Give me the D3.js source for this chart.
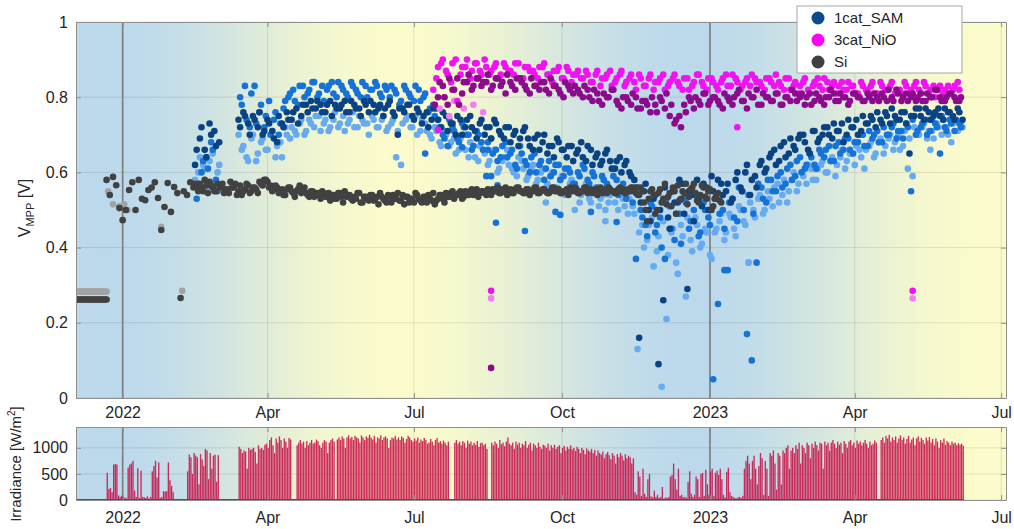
<!DOCTYPE html>
<html>
<head>
<meta charset="utf-8">
<title>V_MPP and irradiance</title>
<style>
  body { margin: 0; padding: 0; background: #fff; }
  svg { font-family: 'Liberation Sans', Arial, sans-serif; }
  .axis path, .axis line { stroke: #8f8f8f; }
  .axis text { fill: #262626; font-size: 16px; font-family: 'Liberation Sans', Arial, sans-serif; }
  .grid line { stroke: #000; stroke-opacity: 0.1; }
  .label { fill: #262626; font-size: 16px; }
  .legend text { fill: #262626; font-size: 15px; }
</style>
</head>
<body>
<div id="vis"></div>
<script src="https://cdn.jsdelivr.net/npm/d3@7"></script>
<script>
// all series are indexed by day counted from 2022-01-01
var xTickDates = ["2022-01-01", "2022-04-01", "2022-07-01", "2022-10-01", "2023-01-01", "2023-04-01", "2023-07-01"];
var xTickLabels = ["2022", "Apr", "Jul", "Oct", "2023", "Apr", "Jul"];
var yTicks = [0, 0.2, 0.4, 0.6, 0.8, 1];
var irrTicks = [0, 500, 1000];
var yearLines = ["2022-01-01", "2023-01-01"];

var legendNames = ["1cat_SAM", "3cat_NiO", "Si"];

// Si, first weeks (flat values)
var siFlatStart = -29;
var siFlatDark = [0.262,0.262,0.262,0.262,0.262,0.262,0.262,0.262,0.262,0.262,0.262,0.262,0.262,0.262,0.262,0.262,0.262,0.262,0.262,0.262];
var siFlatLight = [0.283,0.283,0.283,0.283,0.283,0.283,0.283,0.283,0.283,0.283,0.283,0.283,0.283,0.283,0.283,0.283,0.283,0.283,0.283,0.283];

// Si, every 2nd day
var siStep = 2;
var siStart = -10;
var siDark = [
  0.58,0.54,0.588,0.566,0.505,0.473,0.50,0.553,0.574,0.50,0.58,0.53,0.526,0.553,0.56,0.574,0.532,0.447,0.508,0.572,
  0.495,0.561,0.545,0.266,0.55,0.54,0.574,0.56,
  0.56,0.57,0.55,0.565,0.575,0.56,0.55,0.565,0.57,0.555,0.545,0.56,0.57,0.55,0.54,0.555,0.565,0.55,0.56,0.545,
  0.57,0.58,0.575,0.565,0.555,0.56,0.55,0.54,0.555,0.56,0.545,0.55,0.565,0.555,0.545,0.535,0.55,0.545,0.54,0.55,0.535,0.545,
  0.54,0.53,0.545,0.535,0.55,0.54,0.53,0.535,0.545,0.52,0.535,0.53,0.54,0.525,0.535,0.545,0.53,0.52,0.535,0.54,0.53,0.525,0.54,0.535,0.52,0.53,
  0.545,0.53,0.52,0.535,0.54,0.525,0.515,0.53,0.54,0.52,0.535,0.545,0.53,0.54,0.55,0.535,0.545,0.55,0.54,0.555,0.545,0.55,0.54,0.545,0.555,
  0.55,0.545,0.555,0.56,0.55,0.545,0.555,0.56,0.55,0.545,0.555,0.55,0.56,0.545,0.55,0.555,0.545,0.55,0.56,0.555,0.545,0.55,0.555,0.56,0.55,
  0.555,0.545,0.55,0.56,0.55,0.545,0.555,0.55,0.545,0.555,0.56,0.55,0.545,0.555,0.55,0.545,0.555,0.56,0.55,0.56,
  0.56,0.52,0.47,0.55,0.54,0.50,0.555,0.53,0.515,0.545,0.56,0.49,0.525,0.55,0.57,0.535,0.56,0.545,0.52,0.565,0.535,0.55,0.50,0.53,0.545,0.52
];
var siDark2Start = 45;
var siDark2 = [
  0.57,0.55,0.56,0.58,0.545,0.565,0.55,0.57,0.56,0.545,
  0.555,0.575,0.56,0.54,0.565,0.55,0.57,0.545,0.56,0.555,
  0.575,0.565,0.58,0.56,0.55,0.565,0.545,0.555,0.54,0.56,
  0.55,0.535,0.555,0.545,0.56,0.54,0.55,0.535,0.545,0.53,
  0.545,0.535,0.525,0.54,0.53,0.545,0.52,0.535,0.54,0.525,
  0.53,0.545,0.52,0.535,0.525,0.54,0.53,0.515,0.535,0.525,
  0.54,0.52,0.53,0.545,0.525,0.515,0.535,0.53,0.52,0.54,
  0.525,0.535,0.52,0.53,0.545,0.525,0.54,0.53,0.545,0.535,
  0.55,0.54,0.545,0.53,0.55,0.54,0.555,0.545,0.535,0.55,
  0.545,0.555,0.54,0.55,0.56,0.545,0.55,0.54,0.555,0.545,
  0.56,0.55,0.545,0.555,0.54,0.55,0.56,0.545,0.555,0.55,
  0.545,0.56,0.55,0.555,0.545,0.55,0.54,0.555,0.56,0.545,
  0.55,0.56,0.545,0.555,0.55,0.54,0.56,0.55,0.545,0.555,
  0.55,0.545,0.56,0.555,0.545,0.55,0.56,0.545,0.54,0.55,
  0.50,0.53,0.555,0.49,0.545,0.52,0.57,0.535,0.51,0.55,
  0.565,0.53,0.545,0.515,0.555,0.57,0.525,0.54,0.56,0.53,
  0.555,0.51,0.54,0.525
];
var siLight = [[-9,0.55],[-6,0.515],[-2,0.51],[1,0.515],[3,0.50],[24,0.455],[37,0.285]];

// 1cat_SAM, three pixels, every 3rd day (two interleaved runs each)
var samStep = 3;
var samDarkStart = 45;
var samDark = [
  0.62,0.69,0.66,0.73,0.71,0.68,null,null,null,0.74,
  0.76,0.73,0.75,0.72,0.70,0.74,0.71,0.68,0.73,0.76,
  0.74,0.77,0.75,0.78,0.79,0.77,0.78,0.76,0.79,0.78,
  0.77,0.79,0.76,0.78,0.77,0.79,0.76,0.78,0.77,0.75,
  0.78,0.76,0.70,0.77,0.78,0.75,0.77,0.73,0.76,0.74,
  0.77,0.72,0.75,0.73,0.70,0.74,0.72,0.75,0.71,0.73,
  0.70,0.72,0.74,0.71,0.69,0.72,0.70,0.67,0.71,0.69,
  0.66,0.70,0.68,0.65,0.67,0.69,0.66,0.64,0.67,0.65,
  0.68,0.63,0.66,0.64,0.62,0.65,0.63,0.61,0.64,0.62,
  0.60,0.58,0.16,0.55,0.50,0.53,0.09,0.26,0.48,0.55,
  0.52,0.57,0.29,0.54,0.58,0.51,0.56,0.59,0.53,0.57,
  0.55,0.52,0.58,0.56,0.60,0.54,0.59,0.62,0.60,0.64,
  0.66,0.63,0.68,0.65,0.67,0.69,0.70,0.66,0.71,0.68,
  0.70,0.72,0.69,0.71,0.73,0.70,0.72,0.74,0.71,0.73,
  0.75,0.72,0.74,0.76,0.73,0.75,0.74,0.76,0.65,0.75,
  0.77,0.74,0.76,0.75,0.77,0.74,0.76,0.75,0.77,0.74
];
var samDark2Start = 46;
var samDark2 = [
  0.66,0.72,0.64,0.70,0.67,null,null,null,null,0.72,
  0.75,0.70,0.74,0.76,0.71,0.73,0.69,0.75,0.72,0.74,
  0.76,0.73,0.78,0.76,0.77,0.79,0.76,0.78,0.75,0.77,
  0.78,0.76,0.79,0.77,0.75,0.78,0.79,0.76,0.78,0.77,
  0.79,0.75,0.77,0.76,0.78,0.74,0.76,0.75,0.72,0.77,
  0.74,0.76,0.71,0.73,0.75,0.70,0.74,0.72,0.69,0.74,
  0.72,0.69,0.73,0.70,0.72,0.68,0.71,0.69,0.72,0.67,
  0.69,0.66,0.70,0.67,0.64,0.68,0.66,0.67,0.63,0.66,
  0.64,0.67,0.62,0.65,0.63,0.66,0.61,0.63,0.60,0.63,
  0.59,0.56,0.52,0.57,0.47,0.54,0.50,0.56,0.45,0.52,
  0.58,0.49,0.55,0.47,0.53,0.57,0.50,0.55,0.58,0.54,
  0.57,0.53,0.60,0.55,0.62,0.58,0.56,0.63,0.61,0.65,
  0.62,0.67,0.64,0.69,0.66,0.70,0.68,0.65,0.71,0.69,
  0.72,0.70,0.73,0.71,0.68,0.74,0.72,0.70,0.75,0.73,
  0.74,0.76,0.73,0.75,0.77,0.74,0.76,0.73,0.75,0.77,
  0.75,0.77,0.74,0.76,0.75,0.77,0.76,0.74,0.76
];
var samMidStart = 46;
var samMid = [
  0.53,0.60,0.64,0.68,0.58,null,null,null,null,0.80,
  0.83,0.72,0.83,0.76,0.72,0.79,0.74,0.70,0.77,0.80,
  0.82,0.78,0.83,0.81,0.84,0.80,0.83,0.82,0.84,0.80,
  0.83,0.81,0.84,0.82,0.80,0.83,0.82,0.84,0.81,0.83,
  0.80,0.82,0.78,0.83,0.81,0.79,0.82,0.80,0.76,0.78,
  0.74,0.70,0.67,0.72,0.69,0.73,0.70,0.66,0.71,0.68,
  0.59,0.69,0.66,0.64,0.68,0.65,0.62,0.67,0.63,0.60,
  0.65,0.62,0.58,0.63,0.60,0.62,0.59,0.61,0.57,0.60,
  0.62,0.58,0.60,0.56,0.59,0.57,0.55,0.58,0.56,0.53,
  0.55,0.37,0.50,0.46,0.52,0.44,0.48,0.37,0.51,0.42,
  0.49,0.53,0.45,0.50,0.43,0.52,0.48,0.05,0.25,0.50,
  0.34,0.53,0.47,0.55,0.17,0.10,0.36,0.56,0.52,0.58,
  0.55,0.60,0.57,0.62,0.59,0.64,0.61,0.65,0.62,0.66,
  0.64,0.67,0.63,0.68,0.66,0.69,0.65,0.68,0.70,0.67,
  0.69,0.71,0.68,0.70,0.72,0.69,0.71,0.73,0.55,0.70,
  0.72,0.74,0.71,0.73,0.65,0.72,0.74,0.71,0.73
];
var samMid2Start = 47;
var samMid2 = [
  0.57,0.63,0.61,0.66,0.55,null,null,null,null,0.78,
  0.74,0.81,0.73,0.78,0.75,0.70,0.76,0.73,0.79,0.81,
  0.79,0.83,0.80,0.82,0.84,0.81,0.79,0.83,0.81,0.84,
  0.82,0.80,0.83,0.81,0.84,0.80,0.82,0.83,0.80,0.82,
  0.83,0.81,0.79,0.82,0.80,0.83,0.79,0.81,0.77,0.75,
  0.72,0.69,0.74,0.71,0.68,0.72,0.70,0.67,0.70,0.66,
  0.68,0.65,0.63,0.67,0.64,0.66,0.61,0.65,0.62,0.64,
  0.60,0.63,0.61,0.59,0.62,0.58,0.61,0.60,0.57,0.59,
  0.61,0.57,0.59,0.55,0.58,0.56,0.59,0.54,0.57,0.55,
  0.52,0.54,0.48,0.43,0.51,0.46,0.40,0.53,0.45,0.49,
  0.41,0.52,0.47,0.54,0.44,0.50,0.46,0.53,0.49,0.45,
  0.52,0.48,0.56,0.50,0.54,0.49,0.57,0.53,0.58,0.55,
  0.59,0.56,0.61,0.58,0.63,0.60,0.62,0.64,0.61,0.65,
  0.66,0.63,0.67,0.65,0.69,0.66,0.68,0.70,0.67,0.71,
  0.70,0.68,0.72,0.70,0.73,0.71,0.69,0.72,0.74,0.71,
  0.73,0.70,0.74,0.72,0.75,0.71,0.73,0.74,0.72
];
var samLightStart = 47;
var samLight = [
  0.60,0.62,0.56,0.65,0.60,null,null,null,null,0.66,
  0.64,0.69,0.63,0.68,0.66,0.70,0.64,0.68,0.72,0.69,
  0.71,0.73,0.70,0.74,0.72,0.75,0.73,0.71,0.74,0.72,
  0.75,0.73,0.76,0.72,0.74,0.73,0.75,0.72,0.74,0.71,
  0.73,0.64,0.62,0.74,0.72,0.75,0.71,0.73,0.70,0.72,
  0.68,0.71,0.67,0.69,0.66,0.70,0.64,0.67,0.63,0.66,
  0.62,0.65,0.60,0.63,0.66,0.61,0.59,0.63,0.58,0.61,
  0.57,0.60,0.56,0.59,0.55,0.58,0.54,0.57,0.55,0.52,
  0.56,0.53,0.55,0.51,0.54,0.52,0.55,0.50,0.53,0.49,
  0.51,0.13,0.46,0.42,0.48,0.39,0.03,0.21,0.44,0.36,
  0.46,0.27,0.42,0.48,0.40,0.45,0.38,0.44,0.47,0.42,
  0.49,0.45,0.51,0.47,0.36,0.50,0.53,0.49,0.55,0.51,
  0.57,0.54,0.52,0.58,0.55,0.60,0.57,0.61,0.58,0.62,
  0.60,0.63,0.59,0.64,0.61,0.65,0.62,0.66,0.61,0.67,
  0.64,0.68,0.65,0.69,0.66,0.70,0.67,0.61,0.59,0.70,
  0.72,0.69,0.71,0.73,0.70,0.72,0.68,0.71,0.73
];
var samLight2Start = 45;
var samLight2 = [
  0.58,0.64,0.61,0.63,0.57,0.62,null,null,null,0.70,
  0.67,0.63,0.70,0.65,0.69,0.66,0.71,0.67,0.64,0.70,
  0.72,0.70,0.74,0.71,0.73,0.75,0.71,0.74,0.72,0.76,
  0.73,0.71,0.74,0.72,0.75,0.73,0.70,0.74,0.72,0.75,
  0.72,0.74,0.71,0.73,0.75,0.72,0.70,0.74,0.71,0.69,
  0.71,0.67,0.70,0.68,0.65,0.69,0.66,0.68,0.64,0.67,
  0.65,0.63,0.66,0.61,0.64,0.62,0.60,0.64,0.61,0.59,
  0.62,0.58,0.61,0.57,0.60,0.56,0.59,0.55,0.58,0.56,
  0.54,0.57,0.52,0.56,0.53,0.50,0.54,0.52,0.55,0.51,
  0.53,0.49,0.44,0.40,0.46,0.35,0.43,0.47,0.38,0.45,
  0.33,0.43,0.48,0.39,0.46,0.41,0.44,0.37,0.45,0.49,
  0.44,0.48,0.43,0.50,0.46,0.52,0.48,0.54,0.50,0.53,
  0.56,0.52,0.58,0.55,0.60,0.57,0.59,0.62,0.58,0.61,
  0.63,0.60,0.64,0.62,0.66,0.63,0.65,0.67,0.64,0.66,
  0.68,0.65,0.69,0.67,0.70,0.68,0.66,0.71,0.69,0.72,
  0.70,0.73,0.71,0.69,0.72,0.74,0.70,0.73,0.71,0.72
];
var samMidOut = [[188,0.65],[211,0.667],[227,0.66],[229,0.59],[232,0.466],[233,0.566],[250,0.444],[269,0.495],[272,0.487],[291,0.495],[307,0.468],[374,0.34]];
var samLightOut = [[263,0.52],[281,0.50],[300,0.47],[389,0.36],[502,0.66]];

// 3cat_NiO, two pixels, every 3rd day (two interleaved runs each)
var nioStep = 3;
var nioMagStart = 193;
var nioMag = [
  0.82,0.88,0.90,0.86,0.89,0.79,0.88,0.90,0.87,0.89,0.86,0.88,0.87,
  0.89,0.86,0.88,0.87,0.89,0.85,0.88,0.87,0.86,0.88,0.89,0.86,0.87,0.88,0.85,0.87,0.86,
  0.87,0.85,0.86,0.84,0.87,0.85,0.86,0.83,0.85,0.87,0.84,0.86,0.82,0.85,0.83,0.86,0.84,0.85,0.82,0.84,
  0.86,0.83,0.85,0.82,0.84,0.86,0.83,0.85,0.84,0.82,0.85,0.83,0.86,0.84,0.83,0.85,0.86,0.84,0.83,0.85,
  0.84,0.86,0.83,0.85,0.82,0.84,0.83,0.85,0.81,0.84,0.83,0.85,0.82,0.84,0.83,0.82,0.84,0.83,0.81,0.83,
  0.82,0.84,0.81,0.83,0.82,0.84,0.82,0.81,0.83,0.82,0.84,0.81,0.83,0.82,0.80,0.83,0.82,0.81,0.83,0.82
];
var nioMag2Start = 195;
var nioMag2 = [
  0.85,0.89,0.87,0.84,0.90,0.86,0.88,0.85,0.89,0.87,
  0.90,0.86,0.88,0.85,0.89,0.87,0.86,0.89,0.85,0.88,
  0.87,0.85,0.88,0.86,0.84,0.87,0.85,0.88,0.84,0.86,
  0.85,0.87,0.84,0.86,0.83,0.85,0.87,0.84,0.86,0.83,
  0.85,0.84,0.86,0.83,0.85,0.82,0.84,0.86,0.83,0.85,
  0.84,0.82,0.85,0.83,0.86,0.84,0.82,0.85,0.83,0.84,
  0.86,0.83,0.85,0.82,0.84,0.83,0.85,0.84,0.82,0.85,
  0.83,0.84,0.82,0.85,0.83,0.81,0.84,0.82,0.83,0.85,
  0.82,0.84,0.83,0.81,0.84,0.82,0.83,0.81,0.84,0.82,
  0.83,0.81,0.84,0.82,0.83,0.81,0.82,0.84,0.81,0.83,
  0.82,0.84,0.81,0.83,0.82,0.81,0.83,0.82,0.84
];
var nioPurStart = 194;
var nioPur = [
  0.78,0.84,0.80,0.85,0.82,0.78,0.84,0.86,0.83,0.85,0.84,0.86,0.83,
  0.85,0.84,0.86,0.83,0.85,0.84,0.82,0.85,0.83,0.84,0.82,0.85,0.83,0.81,0.84,0.82,0.83,
  0.81,0.83,0.80,0.82,0.79,0.81,0.80,0.82,0.78,0.80,0.79,0.81,0.77,0.79,0.78,0.80,0.76,0.79,0.81,0.78,
  0.74,0.72,0.76,0.79,0.80,0.78,0.81,0.79,0.80,0.78,0.81,0.79,0.80,0.82,0.79,0.81,0.80,0.78,0.81,0.80,
  0.79,0.81,0.78,0.80,0.82,0.79,0.81,0.80,0.78,0.81,0.79,0.80,0.82,0.79,0.81,0.80,0.79,0.81,0.80,0.79,
  0.80,0.81,0.79,0.80,0.82,0.79,0.81,0.80,0.79,0.81,0.80,0.79,0.81,0.80,0.82,0.79,0.80,0.81,0.79,0.80
];
var nioPur2Start = 196;
var nioPur2 = [
  0.80,0.83,0.78,0.82,0.85,0.81,0.84,0.82,0.85,0.83,
  0.84,0.82,0.85,0.83,0.81,0.84,0.82,0.85,0.83,0.81,
  0.83,0.82,0.84,0.81,0.83,0.82,0.80,0.83,0.81,0.82,
  0.80,0.82,0.79,0.81,0.78,0.80,0.82,0.79,0.77,0.80,
  0.78,0.80,0.77,0.79,0.76,0.78,0.80,0.77,0.75,0.73,
  0.75,0.78,0.80,0.77,0.79,0.81,0.78,0.80,0.79,0.77,
  0.80,0.78,0.81,0.79,0.77,0.80,0.82,0.78,0.80,0.79,
  0.81,0.78,0.80,0.79,0.81,0.80,0.78,0.81,0.79,0.80,
  0.78,0.80,0.81,0.79,0.80,0.78,0.81,0.80,0.79,0.81,
  0.79,0.80,0.81,0.79,0.80,0.82,0.79,0.81,0.80,0.79,
  0.81,0.79,0.80,0.82,0.80,0.79,0.81,0.80,0.79
];
var nioPink = [[197,0.77],[200,0.80],[203,0.75],[206,0.79],[212,0.77],[218,0.78],[224,0.76],[229,0.265],[491,0.265]];
var nioMagOut = [[196,0.713],[229,0.285],[382,0.72],[491,0.285]];
var nioPurOut = [[229,0.08],[493,0.944]];

// irradiance, daily peak in W/m2, from day -29
var irrStart = -29;
var irr = [
  0,0,0,0,0,0,0,0,0,0,0,0,0,0,0,0,0,0,0,
  520,210,230,150,680,690,680,90,60,80,
  40,50,30,620,680,700,750,180,60,610,
  40,560,60,50,40,70,30,60,550,650,
  750,430,720,40,60,170,160,170,720,380,
  270,150,0,0,0,0,0,0,0,0,
  550,870,820,500,900,850,820,300,880,780,
  650,980,950,400,900,600,850,870,350,860,
  0,0,0,0,0,0,0,0,0,0,
  0,0,1020,980,900,950,930,600,1000,960,
  980,1000,920,700,1050,980,1000,960,1060,1080,
  1000,1150,1200,1050,900,1180,1100,1220,1150,1000,
  1180,1120,1000,1190,1160,0,0,0,1050,1100,
  1150,1080,1120,1000,1130,1050,1100,1150,1080,1100,
  1160,1130,1050,1000,1100,1150,1120,900,1100,1150,
  1180,1120,0,1160,1200,1150,1220,1180,1000,1200,
  1240,1180,1210,1150,1230,1200,1180,1100,1240,1200,
  1150,1220,1190,1250,1200,1160,1230,1100,1200,1180,
  1240,1150,1200,1220,1180,1000,1150,1200,1180,1230,
  1160,1200,1150,1220,1190,1100,1170,1230,1200,1150,
  1120,1180,1140,1200,1100,1160,1130,1190,1150,1080,
  1100,1170,1120,1050,1150,1190,1100,1130,1080,1140,
  1100,1050,1120,0,0,0,1100,1150,1080,1120,
  1050,1130,1100,1000,1140,1080,1120,1050,1100,1060,
  1130,1020,1090,1100,1050,1080,980,0,0,1100,
  1050,1120,1080,1000,1150,1070,1100,1030,1120,1200,
  1080,1050,1100,980,1120,1060,1100,1000,1080,1050,
  1130,1000,1060,1100,950,1080,1050,1000,1100,1020,
  980,1060,1040,1000,1080,950,1050,1000,1060,980,
  1020,1050,900,1000,1040,950,1020,980,1050,970,
  1000,940,1020,980,900,1000,960,880,990,950,
  930,980,900,960,850,950,900,870,930,800,
  880,920,860,780,900,850,700,880,820,900,
  850,760,880,800,850,820,700,800,150,100,
  550,450,80,600,120,60,400,500,70,50,
  180,60,100,40,60,250,30,50,40,60,
  450,480,700,400,200,600,80,100,50,60,
  40,350,550,120,60,100,450,400,60,500,
  520,80,580,300,100,550,600,80,520,560,
  480,600,400,100,50,540,620,150,80,60,
  40,30,50,60,40,80,600,750,850,700,
  400,750,850,600,300,650,900,800,100,750,
  600,80,900,850,950,700,200,900,850,300,
  950,900,1000,1050,600,950,1000,900,1050,980,
  1100,700,1050,1000,900,1100,1050,800,1080,1000,
  1120,1050,950,1100,1080,600,1120,1050,1100,950,
  1100,1150,1080,1000,1120,1060,1100,900,1130,1080,
  1000,1120,1150,1050,1100,1000,1140,1080,1120,1050,
  1100,1150,1080,1000,1120,1050,1080,1140,1100,0,
  0,1150,1200,1100,1230,1180,1250,1120,1200,1150,
  1220,1100,1180,1240,1150,1200,1080,1170,1230,1100,
  1160,1200,1050,1180,1220,1120,1190,1150,1080,1200,
  1140,1210,1100,1170,1050,1180,1120,1000,1150,1100,
  1180,1060,1130,1100,1050,1120,1080,1100,1050,1090,
  1060,1080,1040
];

var colors = {
  samDark: "#0a4383", samMid: "#1572d6", samLight: "#66aaef",
  nioMag: "#f012f0", nioPur: "#8c0a8c", nioPink: "#f27ef2",
  siDark: "#414141", siLight: "#a3a3a3",
  irr: "#c8174c", winter: "#bcd9ec", summer: "#fbfbcb"
};
var legendColors = ["#0d4b8e", "#ff00ff", "#404040"];

var W = 1014, H = 529,
    left = 76, right = 1006,
    plotTop = 22, plotBottom = 398,
    irrTop = 427, irrBottom = 500,
    dotR = 3.3;

var parse = d3.timeParse("%Y-%m-%d");
var day0 = parse("2022-01-01");
function dayDate(d) { return d3.timeDay.offset(day0, d); }
function series(start, step, vals) {
  var out = [];
  vals.forEach(function(v, i) {
    if (v !== null) out.push({date: dayDate(start + i * step), v: v});
  });
  return out;
}
function pairs(list) {
  return list.map(function(p) { return {date: dayDate(p[0]), v: p[1]}; });
}

var x = d3.scaleTime().domain([parse("2021-12-03"), parse("2023-07-04")]).range([left, right]);
var y = d3.scaleLinear().domain([0, 1]).range([plotBottom, plotTop]);
var yIrr = d3.scaleLinear().domain([0, 1400]).range([irrBottom, irrTop]);
var tickDates = xTickDates.map(parse);

var svg = d3.select("#vis").append("svg")
  .attr("width", W)
  .attr("height", H);

var defs = svg.append("defs");

// seasonal background: blue around the winter solstice, yellow around the summer one
var grad = defs.append("linearGradient")
  .attr("id", "season")
  .attr("gradientUnits", "userSpaceOnUse")
  .attr("x1", left).attr("x2", right).attr("y1", 0).attr("y2", 0);
var mix = d3.interpolateRgb(colors.winter, colors.summer),
    solstice = parse("2021-12-21");
d3.range(0, 586, 6).forEach(function(k) {
  var dt = d3.timeDay.offset(x.domain()[0], k);
  var phase = (dt - solstice) / 864e5 / 365.25;
  var t = (1 - Math.cos(2 * Math.PI * phase)) / 2;
  grad.append("stop")
    .attr("offset", Math.max(0, Math.min(1, (x(dt) - left) / (right - left))))
    .attr("stop-color", mix(t));
});

defs.append("clipPath").attr("id", "clipTop")
  .append("rect").attr("x", left).attr("y", plotTop).attr("width", right - left).attr("height", plotBottom - plotTop);
defs.append("clipPath").attr("id", "clipBot")
  .append("rect").attr("x", left).attr("y", irrTop).attr("width", right - left).attr("height", irrBottom - irrTop);

function panel(yScale, ticks, top, bottom) {
  svg.append("rect")
    .attr("x", left).attr("y", top)
    .attr("width", right - left).attr("height", bottom - top)
    .attr("fill", "url(#season)");

  var grid = svg.append("g").attr("class", "grid");
  grid.selectAll("line.gx").data(tickDates).enter().append("line")
    .attr("x1", function(d) { return x(d); }).attr("x2", function(d) { return x(d); })
    .attr("y1", top).attr("y2", bottom);
  grid.selectAll("line.gy").data(ticks).enter().append("line")
    .attr("x1", left).attr("x2", right)
    .attr("y1", function(d) { return yScale(d); }).attr("y2", function(d) { return yScale(d); });

  svg.append("g").selectAll("line").data(yearLines.map(parse)).enter().append("line")
    .attr("x1", function(d) { return x(d); }).attr("x2", function(d) { return x(d); })
    .attr("y1", top).attr("y2", bottom)
    .attr("stroke", "#7c7c7c").attr("stroke-width", 1.6);
}

function frame(yScale, ticks, top, bottom, pad) {
  svg.append("g").attr("class", "axis")
    .attr("transform", "translate(0," + bottom + ")")
    .call(d3.axisBottom(x).tickValues(tickDates)
      .tickFormat(function(d, i) { return xTickLabels[i]; })
      .tickSizeInner(-5).tickSizeOuter(0).tickPadding(pad));
  svg.append("g").attr("class", "axis")
    .attr("transform", "translate(0," + top + ")")
    .call(d3.axisTop(x).tickValues(tickDates).tickFormat("").tickSizeInner(-5).tickSizeOuter(0));
  svg.append("g").attr("class", "axis")
    .attr("transform", "translate(" + left + ",0)")
    .call(d3.axisLeft(yScale).tickValues(ticks).tickFormat(function(d) { return String(d); })
      .tickSizeInner(-5).tickSizeOuter(0).tickPadding(8));
  svg.append("g").attr("class", "axis")
    .attr("transform", "translate(" + right + ",0)")
    .call(d3.axisRight(yScale).tickValues(ticks).tickFormat("").tickSizeInner(-5).tickSizeOuter(0));
}

panel(y, yTicks, plotTop, plotBottom);
panel(yIrr, irrTicks, irrTop, irrBottom);

// scatter layers, drawn back to front
var layers = [
  [series(samLightStart, samStep, samLight), colors.samLight],
  [series(samLight2Start, samStep, samLight2), colors.samLight],
  [series(samMidStart, samStep, samMid), colors.samMid],
  [series(samMid2Start, samStep, samMid2), colors.samMid],
  [pairs(samMidOut), colors.samMid],
  [pairs(samLightOut), colors.samLight],
  [series(samDarkStart, samStep, samDark), colors.samDark],
  [series(samDark2Start, samStep, samDark2), colors.samDark],
  [pairs(nioPink), colors.nioPink],
  [series(nioMagStart, nioStep, nioMag), colors.nioMag],
  [series(nioMag2Start, nioStep, nioMag2), colors.nioMag],
  [pairs(nioMagOut), colors.nioMag],
  [series(nioPurStart, nioStep, nioPur), colors.nioPur],
  [series(nioPur2Start, nioStep, nioPur2), colors.nioPur],
  [pairs(nioPurOut), colors.nioPur],
  [series(siFlatStart, 1, siFlatLight), colors.siLight],
  [pairs(siLight), colors.siLight],
  [series(siFlatStart, 1, siFlatDark), colors.siDark],
  [series(siStart, siStep, siDark), colors.siDark],
  [series(siDark2Start, siStep, siDark2), colors.siDark]
];

var dots = svg.append("g").attr("clip-path", "url(#clipTop)");
layers.forEach(function(layer) {
  dots.append("g").selectAll("circle")
    .data(layer[0])
    .enter().append("circle")
      .attr("cx", function(d) { return x(d.date); })
      .attr("cy", function(d) { return y(d.v); })
      .attr("r", dotR)
      .attr("fill", layer[1]);
});

// irradiance as one spike per day
var irrData = series(irrStart, 1, irr);
var bars = svg.append("g").attr("clip-path", "url(#clipBot)");
bars.append("line")
  .attr("x1", x(irrData[0].date)).attr("x2", x(irrData[irrData.length - 1].date) + 1)
  .attr("y1", yIrr(0) - 0.5).attr("y2", yIrr(0) - 0.5)
  .attr("stroke", colors.irr).attr("stroke-width", 1.2);
bars.selectAll("rect")
  .data(irrData.filter(function(d) { return d.v > 0; }))
  .enter().append("rect")
    .attr("x", function(d) { return x(d.date); })
    .attr("width", 1.35)
    .attr("y", function(d) { return yIrr(d.v); })
    .attr("height", function(d) { return yIrr(0) - yIrr(d.v); })
    .attr("fill", colors.irr)
    .attr("fill-opacity", 0.9);

frame(y, yTicks, plotTop, plotBottom, 9);
frame(yIrr, irrTicks, irrTop, irrBottom, 12);

// axis titles
var vLabel = svg.append("text").attr("class", "label")
  .attr("transform", "translate(30,208) rotate(-90)")
  .attr("text-anchor", "middle");
vLabel.append("tspan").text("V");
vLabel.append("tspan").attr("dy", 4).style("font-size", "11px").text("MPP");
vLabel.append("tspan").attr("dy", -4).text(" [V]");

var iLabel = svg.append("text").attr("class", "label")
  .attr("transform", "translate(21,464) rotate(-90)")
  .attr("text-anchor", "middle")
  .style("font-size", "15px");
iLabel.append("tspan").text("Irradiance [W/m");
iLabel.append("tspan").attr("dy", -6).style("font-size", "10px").text("2");
iLabel.append("tspan").attr("dy", 6).text("]");

// legend
var legend = svg.append("g").attr("class", "legend");
legend.append("rect")
  .attr("x", 797).attr("y", 6).attr("width", 165).attr("height", 67)
  .attr("fill", "#fff").attr("stroke", "#a6a6a6");
var item = legend.selectAll("g.item").data(legendNames).enter().append("g")
  .attr("transform", function(d, i) { return "translate(818," + (18 + i * 22) + ")"; });
item.append("circle").attr("r", 6.5).attr("fill", function(d, i) { return legendColors[i]; });
item.append("text").attr("x", 16).attr("dy", "0.35em").text(function(d) { return d; });
</script>
</body>
</html>
